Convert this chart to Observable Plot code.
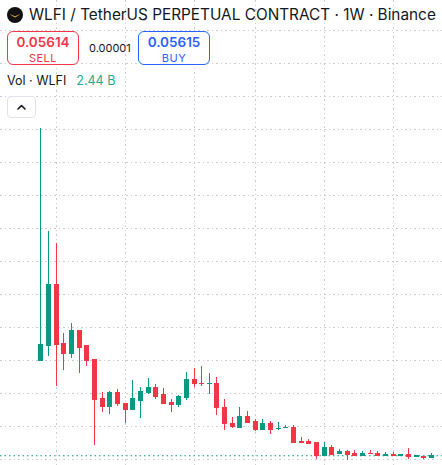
<!DOCTYPE html>
<html>
<head>
<meta charset="utf-8">
<script src="https://cdn.jsdelivr.net/npm/d3@7"></script>
<script src="https://cdn.jsdelivr.net/npm/@observablehq/plot@0.6"></script>
<style>
  html, body { margin: 0; padding: 0; background: #ffffff; }
  body { width: 442px; height: 465px; overflow: hidden; font-family: Inter, "Noto Sans", sans-serif; color: #131722; }
  #wrap { position: relative; width: 442px; height: 465px; }
  #chart { position: absolute; left: 0; top: 0; }
  .ov { position: absolute; white-space: nowrap; }
  #icon { left: 7px; top: 7px; width: 16px; height: 16px; border-radius: 50%; background: #111; }
  #title { left: 29px; top: 7px; font-size: 15.35px; line-height: 16px; color: #131722; }
  .box { top: 31px; width: 70px; height: 32px; border-radius: 6px; background: #fff; text-align: center; }
  .box .p { font-size: 13.5px; font-weight: 600; line-height: 14px; margin-top: 3px; }
  .box .l { font-size: 11px; line-height: 12px; margin-top: 3px; letter-spacing: 0.5px; }
  #sell { left: 7px; border: 1px solid #F23645; color: #F23645; }
  #buy { left: 138px; border: 1px solid #2962FF; color: #2962FF; }
  #spread { left: 89px; top: 42px; font-size: 11px; line-height: 12px; color: #131722; }
  #vol { left: 7px; top: 74px; font-size: 12.5px; line-height: 14px; color: #131722; }
  #vol .v { color: #22AB94; margin-left: 10px; }
  #btn { left: 7px; top: 96px; width: 27px; height: 20px; border: 1px solid #e0e3eb; border-radius: 4px; background: #fff; }
</style>
</head>
<body>
<div id="wrap">
  <div id="chart"></div>
  <div class="ov" id="icon"><svg width="16" height="16" viewBox="0 0 16 16"><path d="M2.8 7 L8 9.2 L13.2 7 L10.8 8.9 L8 10.4 L5.2 8.9 Z" fill="#d4a23a"/></svg></div>
  <div class="ov" id="title">WLFI / TetherUS PERPETUAL CONTRACT · 1W · Binance</div>
  <div class="ov box" id="sell"><div class="p">0.05614</div><div class="l">SELL</div></div>
  <div class="ov" id="spread">0.00001</div>
  <div class="ov box" id="buy"><div class="p">0.05615</div><div class="l">BUY</div></div>
  <div class="ov" id="vol">Vol · WLFI<span class="v">2.44 B</span></div>
  <div class="ov" id="btn"><svg width="27" height="20" viewBox="0 0 27 20"><polyline points="10,12 13.5,8.5 17,12" fill="none" stroke="#131722" stroke-width="1.6" stroke-linecap="round" stroke-linejoin="round"/></svg></div>
</div>
<script>
// Weekly candles (week start, Monday)
const weeks = [
  "2025-08-18","2025-08-25","2025-09-01","2025-09-08","2025-09-15","2025-09-22","2025-09-29",
  "2025-10-06","2025-10-13","2025-10-20","2025-10-27","2025-11-03","2025-11-10","2025-11-17",
  "2025-11-24","2025-12-01","2025-12-08","2025-12-15","2025-12-22","2025-12-29","2026-01-05",
  "2026-01-12","2026-01-19","2026-01-26","2026-02-02","2026-02-09","2026-02-16","2026-02-23",
  "2026-03-02","2026-03-09","2026-03-16","2026-03-23","2026-03-30","2026-04-06","2026-04-13",
  "2026-04-20","2026-04-27","2026-05-04","2026-05-11","2026-05-18","2026-05-25","2026-06-01",
  "2026-06-08","2026-06-15","2026-06-22","2026-06-29","2026-07-06","2026-07-13","2026-07-20",
  "2026-07-27","2026-08-03","2026-08-10"
];
const open = [
  0.1995,0.2221,0.3141,0.2247,0.2100,0.2444,0.2217,0.2005,0.1414,0.1297,0.1505,0.1353,0.1252,
  0.1398,0.1505,0.1595,0.1489,0.1368,0.1327,0.1433,0.1702,0.1656,0.1641,0.1656,0.1292,0.1050,
  0.0989,0.1141,0.1080,0.0959,0.1035,0.0964,0.0977,0.0989,0.0777,0.0777,0.0747,0.0565,0.0686,
  0.0595,0.0611,0.0595,0.0565,0.0595,0.0595,0.0565,0.0580,0.0565,0.0580,0.0535,0.0550,0.0520
];
const high = [
  0.5520,0.3959,0.3777,0.2414,0.2565,0.2455,0.2217,0.2020,0.1520,0.1535,0.1565,0.1353,0.1702,
  0.1595,0.1732,0.1641,0.1580,0.1414,0.1474,0.1823,0.1888,0.1918,0.1812,0.1752,0.1414,0.1141,
  0.1292,0.1232,0.1111,0.1111,0.1080,0.1065,0.1020,0.1020,0.0838,0.0808,0.0747,0.0762,0.0717,
  0.0656,0.0641,0.0641,0.0626,0.0641,0.0626,0.0611,0.0611,0.0580,0.0671,0.0565,0.0550,0.0595
];
const low = [
  0.1995,0.2065,0.1611,0.1858,0.2035,0.1812,0.1918,0.0721,0.1221,0.1191,0.1312,0.1050,0.1247,
  0.1130,0.1489,0.1414,0.1345,0.1221,0.1297,0.1403,0.1600,0.1615,0.1494,0.1176,0.0948,0.0979,
  0.0974,0.1050,0.0929,0.0951,0.0883,0.0944,0.0967,0.0758,0.0758,0.0732,0.0505,0.0565,0.0580,
  0.0585,0.0489,0.0550,0.0550,0.0573,0.0561,0.0565,0.0565,0.0565,0.0505,0.0535,0.0505,0.0520
];
const close = [
  0.2232,0.3141,0.2236,0.2100,0.2444,0.2191,0.1994,0.1403,0.1297,0.1505,0.1342,0.1252,0.1414,
  0.1520,0.1595,0.1459,0.1353,0.1327,0.1444,0.1702,0.1645,0.1641,0.1656,0.1282,0.1039,0.0994,
  0.1141,0.1065,0.0959,0.1035,0.0959,0.0974,0.0989,0.0762,0.0762,0.0732,0.0565,0.0686,0.0580,
  0.0611,0.0580,0.0561,0.0595,0.0583,0.0565,0.0580,0.0565,0.0580,0.0535,0.0565,0.0520,0.05614
];
const priceGrid = [0.05,0.10,0.15,0.20,0.25,0.30,0.35,0.40,0.45,0.50,0.55,0.60,0.65,0.70];
const lastPrice = 0.05614;

const UP = "#089981", DOWN = "#F23645";
const parse = d3.utcParse("%Y-%m-%d");
const data = weeks.map((w, i) => ({
  date: parse(w), open: open[i], high: high[i], low: low[i], close: close[i],
  top: Math.max(open[i], close[i]), bot: Math.min(open[i], close[i])
}));

// vertical grid: first week of every other month (Sep, Nov, Jan, Mar, May, Jul)
const monthGrid = data.filter((d, i) => i > 0 && d.date.getUTCMonth() !== data[i - 1].date.getUTCMonth() && d.date.getUTCMonth() % 2 === 0).map(d => d.date);

const first = data[0].date;
const xDomain = [d3.utcHour.offset(first, Math.round(-5.26 * 168)), d3.utcHour.offset(first, Math.round(52.44 * 168))];

const chart = Plot.plot({
  width: 442,
  height: 465,
  margin: 0,
  style: { background: "transparent", overflow: "visible" },
  x: { type: "utc", domain: xDomain, axis: null },
  y: { domain: [0.041364, 0.74591], axis: null },
  marks: [
    Plot.gridY(priceGrid, { stroke: "#c9ccd3", strokeOpacity: 1, strokeDasharray: "1.5,3", shapeRendering: "crispEdges" }),
    Plot.gridX(monthGrid, { stroke: "#c9ccd3", strokeOpacity: 1, strokeDasharray: "1.5,3", shapeRendering: "crispEdges" }),
    Plot.ruleY([lastPrice], { stroke: UP, strokeWidth: 1.2, strokeDasharray: "1.5,3" }),
    Plot.ruleX(data, { x: "date", y1: "low", y2: "high", stroke: d => d.close >= d.open ? UP : DOWN, strokeWidth: 1, shapeRendering: "crispEdges" }),
    Plot.ruleX(data, { x: "date", y1: "top", y2: "bot", stroke: d => d.close >= d.open ? UP : DOWN, strokeWidth: 5, insetTop: -0.5, insetBottom: -0.5, shapeRendering: "crispEdges" })
  ]
});
document.getElementById("chart").appendChild(chart);
</script>
</body>
</html>
